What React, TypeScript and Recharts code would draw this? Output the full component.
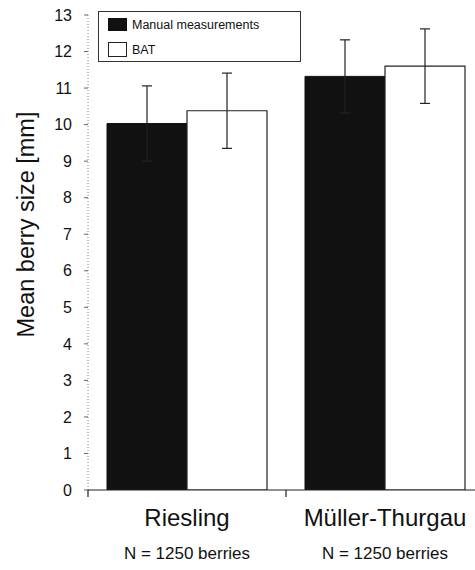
import { BarChart, Bar, XAxis, YAxis, ErrorBar, Label } from 'recharts';

const cultivars = ['Riesling', 'Müller-Thurgau'];
const sampleLabels = ['N = 1250 berries', 'N = 1250 berries'];
const manualMean = [10.03, 11.32];
const manualErr = [1.03, 1.0];
const batMean = [10.38, 11.6];
const batErr = [1.03, 1.02];
const yTicks = [0, 1, 2, 3, 4, 5, 6, 7, 8, 9, 10, 11, 12, 13];

const FONT = '"Liberation Sans", Arial, sans-serif';

const data = cultivars.map((name, i) => ({
  name,
  manual: manualMean[i],
  manualErr: manualErr[i],
  bat: batMean[i],
  batErr: batErr[i],
}));

// category label + sample size, tick mark at band start
function CultivarTick({ x, y, payload, index }: any) {
  const half = payload.offset ?? 0;
  const sample = sampleLabels[index];
  return (
    <g>
      <line x1={x - half} y1={y - 8} x2={x - half} y2={y - 1} stroke="#222" strokeWidth={1.2} />
      <text x={x} y={y + 28} textAnchor="middle" fontFamily={FONT} fontSize={24} fill="#111">
        {payload.value}
      </text>
      <text x={x} y={y + 61} textAnchor="middle" fontFamily={FONT} fontSize={17} fill="#111">
        {sample}
      </text>
    </g>
  );
}

function YTitle({ viewBox }: any) {
  const cx = viewBox.x + 26;
  const cy = viewBox.y + viewBox.height / 2 - 28;
  return (
    <text
      x={cx}
      y={cy}
      transform={`rotate(-90, ${cx}, ${cy})`}
      textAnchor="middle"
      dominantBaseline="central"
      fontFamily={FONT}
      fontSize={23.5}
      fill="#111"
    >
      Mean berry size [mm]
    </text>
  );
}

function LegendBox() {
  const row = { display: 'flex', alignItems: 'center', height: 25 } as const;
  return (
    <div
      style={{
        position: 'absolute',
        left: 98,
        top: 11,
        border: '1.5px solid #333',
        background: '#fff',
        width: 203,
        height: 51,
        boxSizing: 'border-box',
        padding: '0 0 0 9px',
        fontFamily: FONT,
        fontSize: 12.5,
        color: '#111',
      }}
    >
      <div style={row}>
        <span style={{ width: 19, height: 13, background: '#111', marginRight: 5, display: 'inline-block' }} />
        Manual measurements
      </div>
      <div style={row}>
        <span
          style={{
            width: 17,
            height: 13,
            border: '1px solid #222',
            background: '#fff',
            marginRight: 5,
            display: 'inline-block',
          }}
        />
        BAT
      </div>
    </div>
  );
}

export default function App() {
  return (
    <div style={{ position: 'absolute', left: 0, top: 0, width: 475, height: 570, overflow: 'hidden', background: '#fff' }}>
      <BarChart
        width={488}
        height={570}
        data={data}
        margin={{ top: 15, right: 4, left: 0, bottom: 0 }}
        barCategoryGap={19}
        barGap={0}
      >
        <YAxis
          width={88}
          domain={[0, 13]}
          ticks={yTicks}
          interval={0}
          allowDataOverflow
          axisLine={{ stroke: '#888', strokeDasharray: '1 2' }}
          tickLine={{ stroke: '#666' }}
          tickSize={4}
          tickMargin={12}
          tick={{ fontFamily: FONT, fontSize: 16, fill: '#111' }}
        >
          <Label content={<YTitle />} />
        </YAxis>
        <XAxis
          dataKey="name"
          height={80}
          axisLine={{ stroke: '#222', strokeWidth: 1.2 }}
          tickLine={false}
          tick={<CultivarTick />}
          interval={0}
        />
        <Bar dataKey="manual" name="Manual measurements" fill="#111" stroke="#111" isAnimationActive={false}>
          <ErrorBar dataKey="manualErr" width={5} stroke="#222" strokeWidth={1.2} />
        </Bar>
        <Bar dataKey="bat" name="BAT" fill="#fff" stroke="#222" strokeWidth={1.2} isAnimationActive={false}>
          <ErrorBar dataKey="batErr" width={5} stroke="#222" strokeWidth={1.2} />
        </Bar>
      </BarChart>
      <LegendBox />
    </div>
  );
}
